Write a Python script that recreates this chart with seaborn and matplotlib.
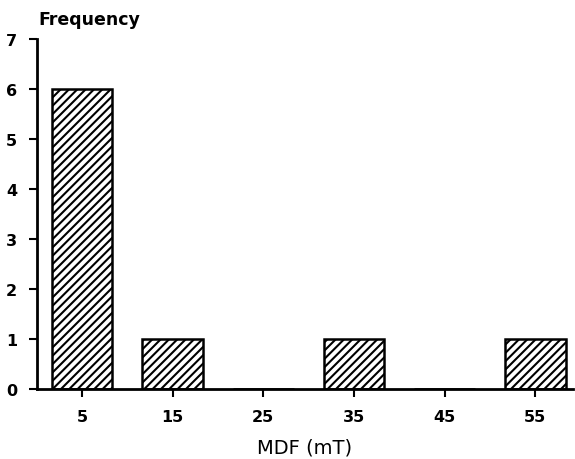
import matplotlib
matplotlib.use("Agg")
import matplotlib.pyplot as plt
import seaborn as sns
import pandas as pd

mdf_centers = [5, 15, 25, 35, 45, 55]
frequency = [6, 1, 0, 1, 0, 1]
y_ticks = [0, 1, 2, 3, 4, 5, 6, 7]

sns.set_theme(style="ticks")
plt.rcParams['font.family'] = ['DejaVu Sans']
plt.rcParams['hatch.linewidth'] = 1.5
plt.rcParams['text.color'] = 'black'
plt.rcParams['axes.labelcolor'] = 'black'
plt.rcParams['xtick.color'] = 'black'
plt.rcParams['ytick.color'] = 'black'

df = pd.DataFrame({"MDF": mdf_centers, "Frequency": frequency})

fig = plt.figure(figsize=(5.75, 4.6), dpi=100)
ax = fig.add_axes([0.064, 0.152, 0.933, 0.761])

sns.barplot(data=df, x="MDF", y="Frequency", native_scale=True, width=0.67,
            color="white", edgecolor="black", linewidth=1.8, hatch="////",
            ax=ax, errorbar=None)

ax.set_xlim(0, 59.2)
ax.set_ylim(0, 7)
ax.set_xticks(mdf_centers)
ax.set_yticks(y_ticks)
ax.set_xticklabels([str(v) for v in mdf_centers], fontsize=11.5, fontweight="bold")
ax.set_yticklabels([str(v) for v in y_ticks], fontsize=11.5, fontweight="bold")
ax.tick_params(axis="both", direction="out", length=6, width=1.5, color="black", pad=8)
for s in ["top", "right"]:
    ax.spines[s].set_visible(False)
for s in ["left", "bottom"]:
    ax.spines[s].set_linewidth(2)
    ax.spines[s].set_color("black")
ax.set_ylabel("")
ax.set_xlabel("MDF (mT)", fontsize=14, labelpad=10)
fig.text(0.066, 0.938, "Frequency", fontsize=12.5, fontweight="bold", ha="left", va="bottom")

fig.savefig("out.png", dpi=100)
